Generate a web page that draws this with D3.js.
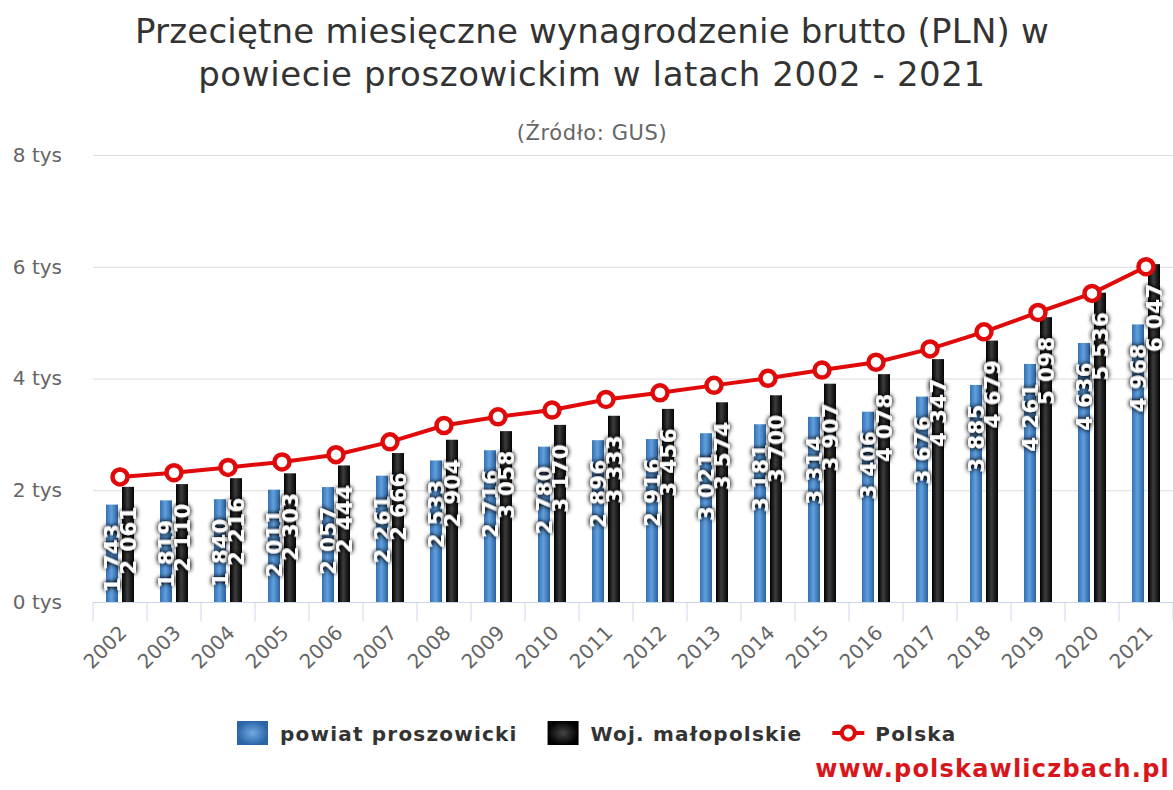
<!DOCTYPE html>
<html>
<head>
    <meta charset="utf-8">
    <style>
        body { margin: 0; background: #fff; }
        svg { display: block; font-family: "DejaVu Sans", Verdana, sans-serif; }
    </style>
</head>
<body>
    <script src="https://cdn.jsdelivr.net/npm/d3@7"></script>
    <script>
        var years = ['2002', '2003', '2004', '2005', '2006', '2007', '2008', '2009', '2010', '2011',
                     '2012', '2013', '2014', '2015', '2016', '2017', '2018', '2019', '2020', '2021'];
        var powiat = [1743, 1819, 1840, 2011, 2057, 2261, 2533, 2716, 2780, 2896,
                      2916, 3021, 3181, 3314, 3406, 3676, 3885, 4261, 4636, 4968];
        var wojewodztwo = [2061, 2110, 2216, 2303, 2444, 2666, 2904, 3058, 3170, 3333,
                           3456, 3574, 3700, 3907, 4078, 4347, 4679, 5098, 5536, 6047];
        var polska = [2239, 2314, 2409, 2507, 2637, 2866, 3159, 3315, 3435, 3625,
                      3744, 3877, 4004, 4151, 4291, 4530, 4835, 5182, 5523, 6001];
        var yTicks = [0, 2000, 4000, 6000, 8000];
        var seriesNames = ['powiat proszowicki', 'Woj. małopolskie', 'Polska'];

        var width = 1173, height = 790;
        var margins = { left: 93, top: 155, right: 0, bottom: 188 };
        var graphWidth = width - margins.left - margins.right;
        var graphHeight = height - margins.top - margins.bottom;
        var red = '#e10a0a';

        var x = d3.scaleBand().domain(years).range([0, graphWidth]);
        var xSub = d3.scaleBand().domain(['p', 'w']).range([13, 41]).paddingInner(0.25);
        var y = d3.scaleLinear().domain([0, 8000]).range([graphHeight, 0]);

        var fmt = function (v) { return d3.format(',')(v).replace(',', ' '); };

        var svg = d3.select('body')
            .append('svg')
            .attr('width', width)
            .attr('height', height);

        var defs = svg.append('defs');
        var blueGrad = defs.append('linearGradient').attr('id', 'blueBar');
        blueGrad.append('stop').attr('offset', '0%').attr('stop-color', '#3471b4');
        blueGrad.append('stop').attr('offset', '45%').attr('stop-color', '#619fdc');
        blueGrad.append('stop').attr('offset', '100%').attr('stop-color', '#2a619f');
        var blackGrad = defs.append('linearGradient').attr('id', 'blackBar');
        blackGrad.append('stop').attr('offset', '0%').attr('stop-color', '#000');
        blackGrad.append('stop').attr('offset', '45%').attr('stop-color', '#3c3c3c');
        blackGrad.append('stop').attr('offset', '100%').attr('stop-color', '#030303');
        var blueRad = defs.append('radialGradient').attr('id', 'blueLeg');
        blueRad.append('stop').attr('offset', '0%').attr('stop-color', '#72aae3');
        blueRad.append('stop').attr('offset', '100%').attr('stop-color', '#2b65a8');
        var blackRad = defs.append('radialGradient').attr('id', 'blackLeg');
        blackRad.append('stop').attr('offset', '0%').attr('stop-color', '#444');
        blackRad.append('stop').attr('offset', '100%').attr('stop-color', '#000');

        var glow = defs.append('filter').attr('id', 'glow')
            .attr('x', '-50%').attr('y', '-50%').attr('width', '200%').attr('height', '200%');
        glow.append('feGaussianBlur').attr('in', 'SourceAlpha').attr('stdDeviation', 2.6).attr('result', 'b');
        glow.append('feComponentTransfer').attr('in', 'b').attr('result', 'c')
            .append('feFuncA').attr('type', 'linear').attr('slope', 1.6);
        var merge = glow.append('feMerge');
        merge.append('feMergeNode').attr('in', 'c');
        merge.append('feMergeNode').attr('in', 'SourceGraphic');

        // titles
        svg.append('text')
            .attr('x', 592).attr('y', 43)
            .attr('text-anchor', 'middle')
            .attr('font-size', 34).attr('fill', '#333')
            .attr('letter-spacing', 0.2)
            .text('Przeciętne miesięczne wynagrodzenie brutto (PLN) w');
        svg.append('text')
            .attr('x', 592).attr('y', 86)
            .attr('text-anchor', 'middle')
            .attr('font-size', 34).attr('fill', '#333')
            .attr('letter-spacing', 0.6)
            .text('powiecie proszowickim w latach 2002 - 2021');
        svg.append('text')
            .attr('x', 592).attr('y', 140)
            .attr('text-anchor', 'middle')
            .attr('font-size', 21).attr('fill', '#666')
            .attr('letter-spacing', 0.6)
            .text('(Źródło: GUS)');

        var graph = svg.append('g')
            .attr('transform', 'translate(' + margins.left + ',' + margins.top + ')');

        // gridlines + y labels
        var yAxis = d3.axisLeft(y)
            .tickValues(yTicks)
            .tickSize(-graphWidth)
            .tickPadding(31)
            .tickFormat(function (d) { return (d / 1000) + ' tys'; });
        var yNodes = graph.append('g').call(yAxis);
        yNodes.select('.domain').remove();
        yNodes.selectAll('.tick line').attr('stroke', '#dcdcdc').attr('stroke-width', 1);
        yNodes.selectAll('.tick text')
            .attr('font-size', 20).attr('fill', '#666')
            .attr('font-family', '"DejaVu Sans", sans-serif');

        // x axis
        var xAxis = d3.axisBottom(x).tickSize(0).tickPadding(0);
        var xNodes = graph.append('g')
            .attr('transform', 'translate(0,' + graphHeight + ')')
            .call(xAxis);
        xNodes.select('.domain').attr('stroke', '#ccd6eb');
        xNodes.selectAll('.tick text')
            .attr('font-size', 20).attr('fill', '#666')
            .attr('font-family', '"DejaVu Sans", sans-serif')
            .attr('text-anchor', 'end')
            .attr('dy', null)
            .attr('transform', 'translate(8,32) rotate(-45)');
        xNodes.selectAll('.sep')
            .data(years.concat(['end']))
            .enter()
            .append('line')
            .attr('class', 'sep')
            .attr('x1', function (d, i) { return i * x.step(); })
            .attr('x2', function (d, i) { return i * x.step(); })
            .attr('y1', 0).attr('y2', 19)
            .attr('stroke', '#ccd6eb');

        // bars
        var barData = [];
        years.forEach(function (yr, i) {
            barData.push({ year: yr, key: 'p', value: powiat[i] });
            barData.push({ year: yr, key: 'w', value: wojewodztwo[i] });
        });

        graph.selectAll('rect.bar')
            .data(barData)
            .enter()
            .append('rect')
            .attr('class', 'bar')
            .attr('x', function (d) { return x(d.year) + xSub(d.key); })
            .attr('y', function (d) { return y(d.value); })
            .attr('width', xSub.bandwidth())
            .attr('height', function (d) { return graphHeight - y(d.value); })
            .attr('fill', function (d) { return d.key === 'p' ? 'url(#blueBar)' : 'url(#blackBar)'; });

        // Polska line
        var line = d3.line()
            .x(function (d, i) { return x(years[i]) + x.bandwidth() / 2; })
            .y(function (d) { return y(d); });

        graph.append('path')
            .datum(polska)
            .attr('d', line)
            .attr('fill', 'none')
            .attr('stroke', red)
            .attr('stroke-width', 4);

        // data labels
        graph.selectAll('text.lbl')
            .data(barData)
            .enter()
            .append('text')
            .attr('class', 'lbl')
            .attr('transform', function (d) {
                var cx = x(d.year) + xSub(d.key) + xSub.bandwidth() / 2 + 8;
                return 'translate(' + cx + ',' + (y(d.value) + 19) + ') rotate(-90)';
            })
            .attr('text-anchor', 'end')
            .attr('font-size', 21).attr('font-weight', 'bold')
            .attr('letter-spacing', 0.6)
            .attr('fill', '#fff')
            .attr('filter', 'url(#glow)')
            .text(function (d) { return fmt(d.value); });

        graph.selectAll('circle.pt')
            .data(polska)
            .enter()
            .append('circle')
            .attr('class', 'pt')
            .attr('cx', function (d, i) { return x(years[i]) + x.bandwidth() / 2; })
            .attr('cy', function (d) { return y(d); })
            .attr('r', 7.5)
            .attr('fill', '#fff')
            .attr('stroke', red)
            .attr('stroke-width', 4.5);

        // legend
        var legend = svg.append('g').attr('transform', 'translate(0,733)');
        var lx = 237;
        seriesNames.forEach(function (name, i) {
            var item = legend.append('g').attr('transform', 'translate(' + lx + ',0)');
            if (i < 2) {
                item.append('rect')
                    .attr('x', 0).attr('y', -12)
                    .attr('width', 31).attr('height', 24)
                    .attr('fill', i === 0 ? 'url(#blueLeg)' : 'url(#blackLeg)');
            } else {
                item.append('line')
                    .attr('x1', 0).attr('x2', 32).attr('y1', 0).attr('y2', 0)
                    .attr('stroke', red).attr('stroke-width', 4);
                item.append('circle')
                    .attr('cx', 16).attr('cy', 0).attr('r', 6.5)
                    .attr('fill', '#fff').attr('stroke', red).attr('stroke-width', 4);
            }
            var t = item.append('text')
                .attr('x', 43).attr('y', 8)
                .attr('font-size', 20).attr('font-weight', 'bold')
                .attr('letter-spacing', 1.2)
                .attr('fill', '#333')
                .text(name);
            lx += 43 + t.node().getComputedTextLength() + 30;
        });

        svg.append('text')
            .attr('x', 1170).attr('y', 777)
            .attr('text-anchor', 'end')
            .attr('font-size', 24).attr('font-weight', 'bold')
            .attr('letter-spacing', 1.2)
            .attr('fill', '#d9161c')
            .text('www.polskawliczbach.pl');
    </script>
</body>
</html>
